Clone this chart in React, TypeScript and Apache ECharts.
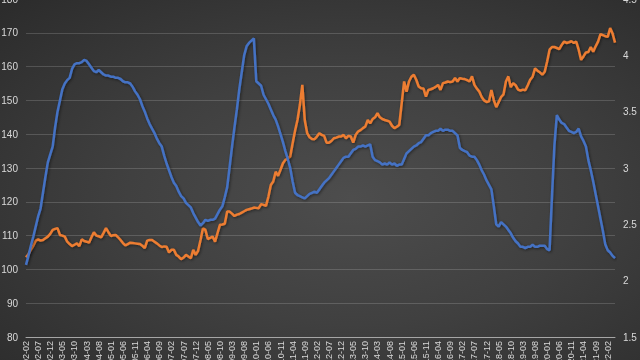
import React, { useEffect, useRef } from "react";
import * as echarts from "echarts";

// Monthly categories: 2002-02 .. 2022-05
const START_YEAR = 2002;
const START_MONTH = 2;
const MONTH_COUNT = 244;
const categories: string[] = [];
for (let k = 0; k < MONTH_COUNT; k++) {
  const m0 = START_MONTH - 1 + k;
  const y = START_YEAR + Math.floor(m0 / 12);
  const m = (m0 % 12) + 1;
  categories.push(`${y}-${m < 10 ? "0" + m : m}`);
}

// Orange series (left axis)
const orangeValues = [
  103.6, 104.5, 105.8, 107, 108.5, 108.9, 108.5, 108.7, 109.2, 109.7,
  110.5, 111.7, 112, 112.2, 110.2, 110, 109.7, 108.2, 107.5, 106.9,
  107.3, 107.7, 106.9, 108.9, 108.4, 108.2, 107.9, 109.5, 111, 110,
  109.8, 109.5, 110.8, 112.2, 111, 109.9, 110.1, 110.2, 109.5, 108.7,
  107.8, 107.1, 107.5, 107.9, 107.8, 107.7, 107.6, 107.5, 107, 106.3,
  108.5, 108.7, 108.7, 108.2, 107.7, 107.1, 106.6, 106.8, 106.7, 105,
  105.8, 105.8, 104.3, 103.8, 103, 103.5, 104.3, 103.8, 103.3, 105.8,
  104.3, 105.5, 108.7, 112.2, 111.7, 109, 109.3, 109.7, 108.2, 110.7,
  113.2, 113.3, 113.5, 117.1, 117.1, 116.5, 115.8, 116.2, 116.4, 116.8,
  117.2, 117.6, 117.8, 118, 118.3, 118.2, 118.1, 119.3, 119.1, 118.8,
  121.5, 125, 126, 128.9, 127.7, 129.5, 131.4, 132.4, 132.8, 133.4,
  137.3, 141, 144.2, 148.7, 154.6, 144.2, 140.3, 139.1, 138.6, 138.5,
  139.3, 140.3, 139.8, 139.5, 137.5, 137.5, 138, 138.8, 139, 139.3,
  139.3, 139.8, 138.8, 139.5, 139.3, 137.5, 139.8, 140.8, 141.2, 141.8,
  142.3, 144.2, 143.2, 144.5, 145, 146.2, 145, 144.5, 144.2, 144,
  143.7, 142.5, 141.8, 142.2, 142.8, 149.2, 155.6, 152.6, 155.6, 157,
  157.6, 156.1, 154.1, 153.6, 153.5, 151.1, 153.1, 153.3, 153.6, 154,
  154.6, 153.1, 155.1, 155.3, 155.6, 155.4, 155.6, 156.6, 155.6, 156.6,
  156.4, 156.3, 156, 155.6, 157.1, 154.6, 153.5, 152.6, 151, 150,
  149.5, 149.7, 153.1, 150.1, 148, 149.5, 151, 151.8, 155.6, 157.1,
  153.9, 155.1, 154.5, 153.2, 152.9, 153.2, 153, 154.5, 156.1, 157,
  159.5, 158.8, 158.3, 157.6, 158.5, 161.5, 165, 165.8, 165.8, 165.5,
  165.2, 166.4, 167.4, 167, 167.2, 167.5, 167, 167.4, 165, 162,
  163, 164.2, 164.3, 165.8, 164.4, 166, 167.4, 169.6, 169.3, 169,
  168.8, 171.4, 169.8, 167.1,
];

// Blue series (right axis)
const blueValues = [
  2.14, 2.22, 2.31, 2.39, 2.48, 2.57, 2.64, 2.78, 2.92, 3.05,
  3.12, 3.19, 3.36, 3.5, 3.6, 3.7, 3.75, 3.78, 3.8, 3.88,
  3.92, 3.93, 3.93, 3.94, 3.96, 3.95, 3.92, 3.89, 3.86, 3.85,
  3.87, 3.85, 3.83, 3.82, 3.82, 3.81, 3.81, 3.8, 3.8, 3.79,
  3.77, 3.76, 3.76, 3.75, 3.72, 3.68, 3.65, 3.61, 3.55, 3.5,
  3.44, 3.39, 3.35, 3.31, 3.26, 3.22, 3.19, 3.11, 3.04, 2.98,
  2.92, 2.87, 2.84, 2.79, 2.75, 2.73, 2.69, 2.67, 2.65, 2.6,
  2.56, 2.52, 2.49, 2.51, 2.54, 2.53, 2.54, 2.54, 2.55, 2.59,
  2.63, 2.66, 2.74, 2.83, 3.01, 3.19, 3.36, 3.52, 3.7, 3.85,
  4.0, 4.08, 4.11, 4.13, 4.15, 3.77, 3.75, 3.73, 3.65, 3.61,
  3.57, 3.52, 3.47, 3.43, 3.37, 3.3, 3.23, 3.15, 3.08, 3.0,
  2.88, 2.78, 2.76, 2.75, 2.74, 2.73, 2.75, 2.77, 2.78, 2.79,
  2.78, 2.81, 2.84, 2.87, 2.89, 2.91, 2.94, 2.97, 3.0, 3.03,
  3.06, 3.09, 3.1, 3.1, 3.13, 3.16, 3.17, 3.19, 3.19, 3.2,
  3.19, 3.2, 3.21, 3.1, 3.07, 3.06, 3.05, 3.03, 3.04, 3.03,
  3.05, 3.03, 3.04, 3.02, 3.03, 3.03, 3.08, 3.13, 3.15, 3.17,
  3.19, 3.2, 3.22, 3.23, 3.26, 3.29, 3.29, 3.31, 3.32, 3.33,
  3.33, 3.35, 3.33, 3.34, 3.34, 3.33, 3.33, 3.31, 3.29, 3.18,
  3.16, 3.15, 3.14, 3.11, 3.1, 3.1, 3.07, 3.03, 2.98, 2.94,
  2.89, 2.85, 2.81, 2.66, 2.5, 2.48, 2.52, 2.5, 2.48, 2.45,
  2.42, 2.38, 2.35, 2.33, 2.3, 2.3, 2.29, 2.3, 2.3, 2.32,
  2.3, 2.3, 2.31, 2.31, 2.31, 2.28, 2.27, 2.75, 3.2, 3.47,
  3.43, 3.4, 3.39, 3.36, 3.33, 3.32, 3.31, 3.32, 3.35, 3.28,
  3.24, 3.19, 3.07, 2.98, 2.88, 2.77, 2.66, 2.55, 2.44, 2.32,
  2.27, 2.25, 2.22, 2.2,
];

const LABEL_COLOR = "#d9d9d9";
const FONT = "Liberation Sans, Arial, sans-serif";

export default function App() {
  const ref = useRef<HTMLDivElement>(null);
  useEffect(() => {
    if (!ref.current) return;
    const chart = echarts.init(ref.current, undefined, { renderer: "svg" });
    chart.setOption({
      animation: false,
      backgroundColor: "transparent",
      grid: {
        left: 26,
        right: 25,
        top: -1,
        bottom: 23,
        containLabel: false,
        outerBoundsMode: "none",
      },
      xAxis: {
        type: "category",
        data: categories,
        boundaryGap: false,
        axisTick: { show: false },
        axisLine: { lineStyle: { color: "#a6a6a6", width: 1 } },
        axisLabel: {
          interval: 4,
          rotate: 90,
          color: LABEL_COLOR,
          fontSize: 9,
          fontFamily: FONT,
          margin: 4,
        },
        splitLine: { show: false },
      },
      yAxis: [
        {
          type: "value",
          min: 80,
          max: 180,
          interval: 10,
          axisLine: { show: false },
          axisTick: { show: false },
          axisLabel: { color: LABEL_COLOR, fontSize: 10, fontFamily: FONT, margin: 8 },
          splitLine: { lineStyle: { color: "rgba(255,255,255,0.16)", width: 1 } },
        },
        {
          type: "value",
          min: 1.5,
          max: 4.5,
          interval: 0.5,
          position: "right",
          axisLine: { show: false },
          axisTick: { show: false },
          axisLabel: { color: LABEL_COLOR, fontSize: 10, fontFamily: FONT, margin: 8 },
          splitLine: { show: false },
        },
      ],
      series: [
        {
          type: "line",
          name: "orange",
          data: orangeValues,
          yAxisIndex: 0,
          showSymbol: false,
          lineStyle: {
            color: "#ED7D31",
            width: 2.5,
            shadowColor: "rgba(0,0,0,0.5)",
            shadowBlur: 3,
            shadowOffsetX: 1,
            shadowOffsetY: 1,
          },
          itemStyle: { color: "#ED7D31" },
        },
        {
          type: "line",
          name: "blue",
          data: blueValues,
          yAxisIndex: 1,
          showSymbol: false,
          lineStyle: {
            color: "#4472C4",
            width: 2.5,
            shadowColor: "rgba(0,0,0,0.5)",
            shadowBlur: 3,
            shadowOffsetX: 1,
            shadowOffsetY: 1,
          },
          itemStyle: { color: "#4472C4" },
        },
      ],
    });
    return () => chart.dispose();
  }, []);
  return (
    <div
      style={{
        position: "fixed",
        left: 0,
        top: 0,
        width: 640,
        height: 360,
        background:
          "radial-gradient(ellipse at 55% 55%, #4d4d4d 0%, #404040 45%, #2b2b2b 100%)",
      }}
    >
      <div ref={ref} style={{ width: 640, height: 360 }} />
    </div>
  );
}
